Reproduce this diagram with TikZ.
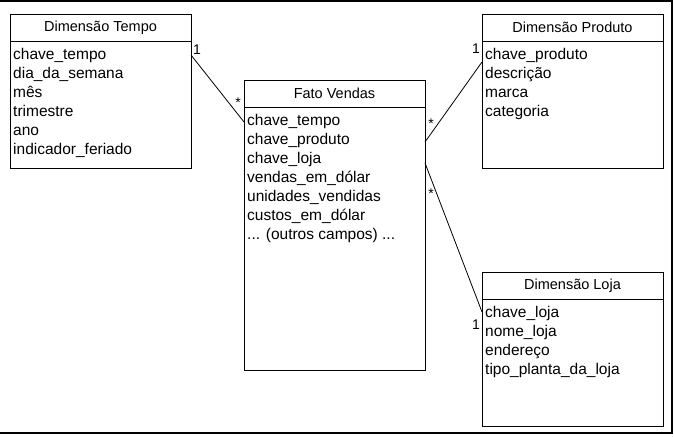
\documentclass[tikz,border=0pt]{standalone}
\usepackage{fontspec}
\setmainfont{Liberation Sans}
\usetikzlibrary{positioning}
\tikzset{
  titulo/.style={font=\fontsize{14.5}{16}\selectfont},
  campos/.style={anchor=north west,align=left,inner sep=0pt,font=\fontsize{15.5}{19}\selectfont},
  mult/.style={font=\fontsize{14}{16}\selectfont,inner sep=0pt}
}
\begin{document}
\begin{tikzpicture}[x=1pt,y=-1pt]
  \useasboundingbox (0,0) rectangle (674,436);
  \draw[line width=1.2pt] (0,1) -- (672,1) -- (672,433) -- (0,433);
  % tabelas
  \begin{scope}[line width=0.9pt]
    \draw (10,14) rectangle (191,168); \draw (10,41) -- (191,41);
    \draw (244,80) rectangle (425,370); \draw (244,107) -- (425,107);
    \draw (482,14) rectangle (663,168); \draw (482,41) -- (663,41);
    \draw (482,272) rectangle (663,426); \draw (482,299) -- (663,299);
  \end{scope}
  \node[titulo] (tempoT) at (100.5,27.5) {Dimensão Tempo};
  \node[titulo] (fatoT) at (334.5,93.5) {Fato Vendas};
  \node[titulo] (produtoT) at (572.5,27.5) {Dimensão Produto};
  \node[titulo] (lojaT) at (572.5,285.5) {Dimensão Loja};
  \node[campos] (tempoC) at (13,48) {chave\_tempo\\dia\_da\_semana\\mês\\trimestre\\ano\\indicador\_feriado};
  \node[campos] (fatoC) at (247,114) {chave\_tempo\\chave\_produto\\chave\_loja\\vendas\_em\_dólar\\unidades\_vendidas\\custos\_em\_dólar\\... (outros campos) ...};
  \node[campos] (produtoC) at (485,48) {chave\_produto\\descrição\\marca\\categoria};
  \node[campos] (lojaC) at (485,306) {chave\_loja\\nome\_loja\\endereço\\tipo\_planta\_da\_loja};
  % ligacoes
  \coordinate (tempoL) at (191,55);
  \coordinate (fatoA) at (244,122);
  \coordinate (fatoB) at (425,142);
  \coordinate (fatoC2) at (425,163);
  \coordinate (produtoL) at (482,62);
  \coordinate (lojaL) at (482,312);
  \draw[line width=0.8pt] (tempoL) -- (fatoA);
  \draw[line width=0.8pt] (fatoB) -- (produtoL);
  \draw[line width=0.8pt] (fatoC2) -- (lojaL);
  \node[mult] (m1) at (197,50) {1};
  \node[mult] (m2) at (238,103) {*};
  \node[mult] (m3) at (431,124) {*};
  \node[mult] (m4) at (476,49) {1};
  \node[mult] (m5) at (431,194) {*};
  \node[mult] (m6) at (476,325) {1};
\end{tikzpicture}
\end{document}
